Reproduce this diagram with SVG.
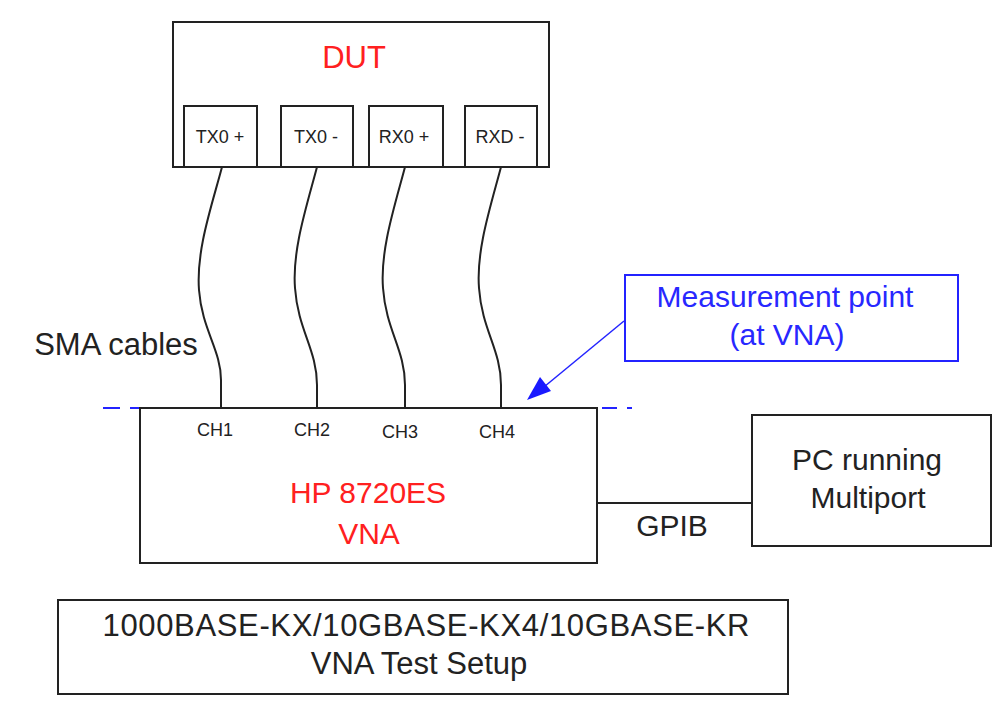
<svg xmlns="http://www.w3.org/2000/svg" width="1002" height="719" viewBox="0 0 1002 719">
<defs>
<style>
.box{fill:#fff;stroke:#222;stroke-width:2}
.bbox{fill:#fff;stroke:#2323ff;stroke-width:2}
.t{font-family:"Liberation Sans",Arial,sans-serif;fill:#222;text-anchor:middle}
.big{font-size:30px}
.sm{font-size:18px}
.red{fill:#ff2020}
.blue{fill:#2828ff}
.cable{fill:none;stroke:#222;stroke-width:2}
</style>
</defs>
<rect width="1002" height="719" fill="#fff"/>

<g id="connectors">
<path class="cable" d="M222,167 C212,205 196,250 199,290 C202,330 221,350 221,380 V407"/>
<path class="cable" d="M317,167 C307,205 292,250 295,288 C298,330 317,350 317,385 V407"/>
<path class="cable" d="M405,167 C395,205 380,250 383,288 C386,330 405,350 405,385 V407"/>
<path class="cable" d="M501,167 C491,205 476,250 479,288 C482,330 501,350 501,385 V407"/>
<path d="M103,408 H120 M130,408 H140 M602,408 H617 M627,408 H632" stroke="#2323ff" stroke-width="2" fill="none"/>
<line x1="597" y1="503" x2="752" y2="503" stroke="#222" stroke-width="2"/>
<line x1="624" y1="321" x2="533" y2="396" stroke="#2323ff" stroke-width="1.5"/>
<path d="M527,400 L540,377 L551,391 z" fill="#1a1aff"/>
</g>

<g id="dut">
<rect class="box" x="173" y="22" width="376" height="145"/>
<text class="t red" x="354" y="68" font-size="31">DUT</text>
</g>
<g id="port-tx0p">
<rect class="box" x="184" y="106" width="73" height="61"/>
<text class="t sm" x="220" y="143">TX0 +</text>
</g>
<g id="port-tx0n">
<rect class="box" x="281" y="106" width="72" height="61"/>
<text class="t sm" x="316" y="143">TX0 -</text>
</g>
<g id="port-rx0p">
<rect class="box" x="369" y="106" width="74" height="61"/>
<text class="t sm" x="404" y="143">RX0 +</text>
</g>
<g id="port-rx0n">
<rect class="box" x="465" y="106" width="72" height="61"/>
<text class="t sm" x="500" y="143">RXD -</text>
</g>

<g id="sma-label">
<text class="t" x="116" y="355" font-size="31">SMA cables</text>
</g>

<g id="measurement-point">
<rect class="bbox" x="625" y="275" width="333" height="86"/>
<text class="t big blue" x="785" y="307">Measurement point</text>
<text class="t big blue" x="787" y="345">(at VNA)</text>
</g>

<g id="vna">
<rect class="box" x="140" y="408" width="457" height="155"/>
<text class="t sm" x="215" y="436">CH1</text>
<text class="t sm" x="312" y="436">CH2</text>
<text class="t sm" x="400" y="438">CH3</text>
<text class="t sm" x="497" y="438">CH4</text>
<text class="t big red" x="368" y="503">HP 8720ES</text>
<text class="t big red" x="369" y="544">VNA</text>
</g>

<g id="gpib-label">
<text class="t big" x="672" y="536">GPIB</text>
</g>

<g id="pc">
<rect class="box" x="752" y="415" width="239" height="131"/>
<text class="t big" x="867" y="470">PC running</text>
<text class="t big" x="868" y="508">Multiport</text>
</g>

<g id="title">
<rect class="box" x="58" y="600" width="730" height="94"/>
<text class="t" x="426" y="636" font-size="31" textLength="647" lengthAdjust="spacing">1000BASE-KX/10GBASE-KX4/10GBASE-KR</text>
<text class="t" x="419" y="674" font-size="31">VNA Test Setup</text>
</g>
</svg>
